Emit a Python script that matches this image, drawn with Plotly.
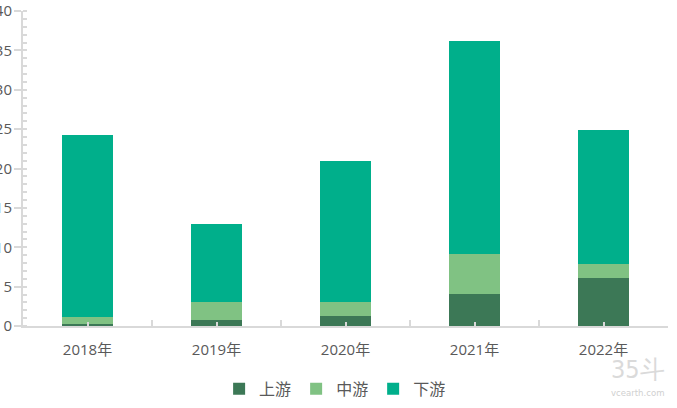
import plotly.graph_objects as go

years = ["2018年", "2019年", "2020年", "2021年", "2022年"]
upstream = [0.3, 0.7, 1.3, 4.1, 6.1]
midstream = [0.9, 2.4, 1.7, 5.1, 1.8]
downstream = [23.1, 9.8, 18.0, 27.0, 17.0]
series_names = ["上游", "中游", "下游"]
colors = ["#3c7856", "#80c283", "#00af8b"]

fig = go.Figure()
for name, vals, c in zip(series_names, [upstream, midstream, downstream], colors):
    fig.add_trace(go.Bar(x=years, y=vals, name=name, marker=dict(color=c, line=dict(width=0)),
                         width=0.4))

# helper trace for the overlay axis that draws short ticks at category centres
fig.add_trace(go.Scatter(x=years, y=upstream, mode="none", xaxis="x2", showlegend=False,
                         hoverinfo="skip"))

grey = "#d9d9d9"
txt = "#595959"
fig.update_layout(
    width=677, height=408,
    margin=dict(l=23, r=9, t=11, b=82, autoexpand=False),
    barmode="stack",
    plot_bgcolor="white", paper_bgcolor="white",
    font=dict(family="Open Sans, Noto Sans CJK SC, sans-serif", size=15, color=txt),
    xaxis=dict(type="category", showline=True, linecolor=grey, linewidth=2, automargin=False,
               ticks="inside", tickson="boundaries", ticklen=6, tickwidth=2, tickcolor=grey,
               showgrid=False, tickfont=dict(size=15, color=txt), ticklabelstandoff=9),
    xaxis2=dict(type="category", matches="x", overlaying="x", showline=False, automargin=False,
                ticks="inside", ticklen=4, tickwidth=2, tickcolor=grey,
                showticklabels=False, showgrid=False),
    yaxis=dict(range=[0, 40], dtick=5, showline=True, linecolor=grey, linewidth=2,
               automargin=False,
               ticks="outside", ticklen=7, tickwidth=2, tickcolor=grey,
               showgrid=False, zeroline=False, tickfont=dict(size=15, color=txt),
               ticklabelstandoff=-1,
               minor=dict(ticks="inside", dtick=1, ticklen=4, tickwidth=1.5, tickcolor=grey)),
    legend=dict(orientation="h", xref="container", yref="container", x=0.495, xanchor="center",
                y=0.047, yanchor="middle", font=dict(size=16, color=txt,
                family="Noto Sans CJK SC, sans-serif"),
                itemwidth=30, traceorder="normal"),
    showlegend=True,
)

wm_font = "Liberation Sans Narrow, DejaVu Sans Condensed, sans-serif"
fig.add_annotation(text="35斗", xref="paper", yref="paper", x=(638 - 23) / 645,
                   y=-(369 - 326) / 315, xanchor="center", yanchor="middle", showarrow=False,
                   font=dict(size=25, color="#dadada", family=wm_font))
fig.add_annotation(text="vcearth.com", xref="paper", yref="paper", x=(638 - 23) / 645,
                   y=-(392 - 326) / 315, xanchor="center", yanchor="middle", showarrow=False,
                   font=dict(size=9.5, color="#d0d0d0", family=wm_font))

fig.write_html("out.html", config={"displayModeBar": False},
               post_script="document.body.style.margin='0';")
